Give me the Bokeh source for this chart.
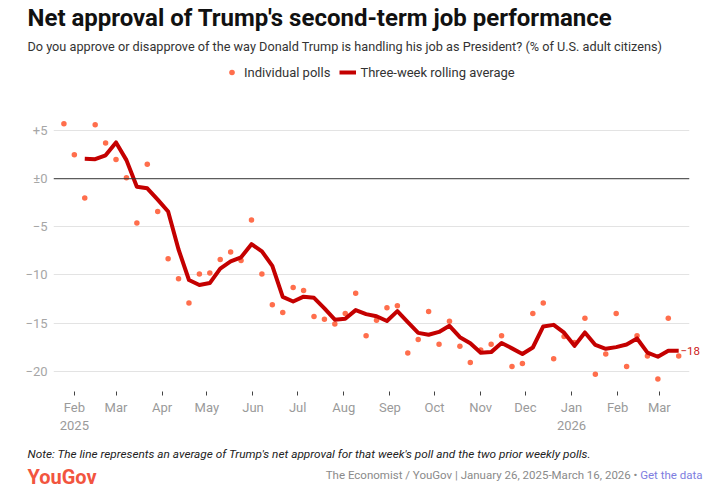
import pandas as pd
from bokeh.plotting import figure
from bokeh.layouts import column
from bokeh.models import (Label, Span, FixedTicker, Legend, LegendItem, Range1d,
                          LinearAxis)
from bokeh.embed import file_html
from bokeh.resources import INLINE

# ---------------- data ----------------
poll_dates = [
    "2025-01-25", "2025-02-01", "2025-02-08", "2025-02-15", "2025-02-22",
    "2025-03-01", "2025-03-08", "2025-03-15", "2025-03-22", "2025-03-29",
    "2025-04-05", "2025-04-12", "2025-04-19", "2025-04-26", "2025-05-03",
    "2025-05-10", "2025-05-17", "2025-05-24", "2025-05-31", "2025-06-07",
    "2025-06-14", "2025-06-21", "2025-06-28", "2025-07-05", "2025-07-12",
    "2025-07-19", "2025-07-26", "2025-08-02", "2025-08-09", "2025-08-16",
    "2025-08-23", "2025-08-30", "2025-09-06", "2025-09-13", "2025-09-20",
    "2025-09-27", "2025-10-04", "2025-10-11", "2025-10-18", "2025-10-25",
    "2025-11-01", "2025-11-08", "2025-11-15", "2025-11-22", "2025-11-29",
    "2025-12-06", "2025-12-13", "2025-12-20", "2025-12-27", "2026-01-03",
    "2026-01-10", "2026-01-17", "2026-01-24", "2026-01-31", "2026-02-07",
    "2026-02-14", "2026-02-21", "2026-02-28", "2026-03-07", "2026-03-14",
]
net_approval = [
    5.7, 2.5, -2.0, 5.6, 3.7, 2.0, 0.1, -4.6, 1.5, -3.4,
    -8.3, -10.4, -12.9, -9.9, -9.8, -8.4, -7.6, -8.5, -4.3, -9.9,
    -13.1, -13.9, -11.3, -11.6, -14.3, -14.6, -15.1, -14.0, -11.9, -16.3,
    -14.7, -13.4, -13.2, -18.1, -16.7, -13.8, -17.2, -14.8, -17.4, -19.1,
    -17.8, -17.2, -16.3, -19.5, -19.2, -14.0, -12.9, -18.7, -16.4, -17.0,
    -14.5, -20.3, -18.2, -14.0, -19.5, -16.3, -18.4, -20.8, -14.5, -18.4,
]
# three-week rolling average, from the third poll onwards
rolling_avg = [
    2.07, 2.03, 2.43, 3.77, 1.93, -0.83, -1.0, -2.17, -3.4,
    -7.35, -10.52, -11.04, -10.84, -9.33, -8.59, -8.16, -6.8, -7.54, -9.06,
    -12.27, -12.75, -12.25, -12.37, -13.47, -14.64, -14.54, -13.65, -14.06, -14.29,
    -14.78, -13.75, -14.9, -16.01, -16.21, -15.91, -15.28, -16.46, -17.08, -18.07,
    -18.01, -17.07, -17.62, -18.2, -17.53, -15.34, -15.18, -15.99, -17.36, -15.97,
    -17.27, -17.67, -17.49, -17.22, -16.59, -18.06, -18.49, -17.87, -17.88,
]
month_ticks = [
    "2025-02-01", "2025-03-01", "2025-04-01", "2025-05-01", "2025-06-01",
    "2025-07-01", "2025-08-01", "2025-09-01", "2025-10-01", "2025-11-01",
    "2025-12-01", "2026-01-01", "2026-02-01", "2026-03-01",
]
month_labels = ["Feb\n2025", "Mar", "Apr", "May", "Jun", "Jul", "Aug", "Sep",
                "Oct", "Nov", "Dec", "Jan\n2026", "Feb", "Mar"]
y_ticks = [-20, -15, -10, -5, 0, 5]
y_labels = ["\u221220", "\u221215", "\u221210", "\u22125", "\u00b10", "+5"]

TITLE = "Net approval of Trump's second-term job performance"
SUBTITLE = ("Do you approve or disapprove of the way Donald Trump is handling his job as "
            "President? (% of U.S. adult citizens)")
NOTE = ("Note: The line represents an average of Trump's net approval for that week's poll "
        "and the two prior weekly polls.")
SOURCE = "The Economist / YouGov | January 26, 2025-March 16, 2026 \u2022"
LINK = "Get the data"

# ---------------- layout ----------------
W = 703
HEAD_H, MAIN_H, FOOT_H = 62, 378, 52
FRAME_L, FRAME_R, FRAME_B = 53, 693, 391     # picture coordinates
FONT = "Roboto"


def blank(h):
    f = figure(width=W, height=h, output_backend="svg", toolbar_location=None,
               x_range=Range1d(0, W), y_range=Range1d(0, h),
               x_axis_location=None, y_axis_location=None,
               min_border=0, min_border_left=0, min_border_right=0,
               min_border_top=0, min_border_bottom=0)
    f.outline_line_color = None
    f.grid.visible = False
    f.background_fill_color = "white"
    f.border_fill_color = "white"
    try:
        f.frame_align = False
    except AttributeError:
        pass
    return f


def add_text(f, top, h, text, x, y, size, color, style="normal", align="left"):
    f.add_layout(Label(x=x, y=top + h - y, x_units="screen", y_units="screen",
                       text=text, text_font=FONT, text_font_size=size, text_color=color,
                       text_font_style=style, text_align=align, text_baseline="middle"))


# header
head = blank(HEAD_H)
add_text(head, 0, HEAD_H, TITLE, 27, 17, "24px", "#111111", "bold")
add_text(head, 0, HEAD_H, SUBTITLE, 27, 46, "12.7px", "#333333")

# main chart
dates = pd.to_datetime(poll_dates)
p = figure(width=W, height=MAIN_H, x_axis_type="datetime", output_backend="svg",
           toolbar_location=None,
           x_range=Range1d(pd.Timestamp("2025-01-18"), pd.Timestamp("2026-03-21 06:00")),
           y_range=Range1d(-22.10, 12.07),
           min_border_left=FRAME_L, min_border_right=W - FRAME_R,
           min_border_top=0, min_border_bottom=HEAD_H + MAIN_H - FRAME_B)
p.outline_line_color = None
p.background_fill_color = "white"
p.border_fill_color = "white"

p.yaxis.ticker = FixedTicker(ticks=y_ticks)
p.yaxis.major_label_overrides = dict(zip(y_ticks, y_labels))
p.yaxis.axis_line_color = None
p.yaxis.major_tick_line_color = None
p.yaxis.minor_tick_line_color = None
p.yaxis.major_tick_out = 0
p.yaxis.major_tick_in = 0
p.yaxis.major_label_text_color = "#a6a6a6"
p.yaxis.major_label_text_font = FONT
p.yaxis.major_label_text_font_size = "13px"
p.yaxis.major_label_standoff = 6

p.ygrid.ticker = FixedTicker(ticks=[t for t in y_ticks if t != 0])
p.ygrid.grid_line_color = "#e3e3e3"
p.xgrid.grid_line_color = None
p.add_layout(Span(location=0, dimension="width", line_color="#333333", line_width=1))

tick_ms = [int(pd.Timestamp(d).value // 10**6) for d in month_ticks]
p.xaxis.ticker = FixedTicker(ticks=tick_ms)
p.xaxis.major_label_overrides = dict(zip(tick_ms, month_labels))
p.xaxis.axis_line_color = None
p.xaxis.major_tick_out = 4
p.xaxis.major_tick_in = 0
p.xaxis.major_tick_line_color = "#444444"
p.xaxis.minor_tick_line_color = None
p.xaxis.major_label_text_color = "#9a9a9a"
p.xaxis.major_label_text_font = FONT
p.xaxis.major_label_text_font_size = "13px"
p.xaxis.major_label_standoff = 4

r_pts = p.scatter(dates, net_approval, size=5.5, fill_color="#ff6e4c", line_color=None)
r_line = p.line(dates[2:], rolling_avg, line_color="#c40000", line_width=4,
                line_join="round")

# end-of-line value, as a right-hand axis label
last_val = rolling_avg[-1]
end_axis = LinearAxis(ticker=FixedTicker(ticks=[last_val]),
                      major_label_overrides={last_val: "\u2212%d" % abs(round(last_val))})
end_axis.axis_line_color = None
end_axis.major_tick_line_color = None
end_axis.minor_tick_line_color = None
end_axis.major_tick_in = 0
end_axis.major_tick_out = 0
end_axis.major_label_standoff = -9
end_axis.major_label_text_color = "#cc2020"
end_axis.major_label_text_font = FONT
end_axis.major_label_text_font_size = "11.5px"
p.add_layout(end_axis, "right")

legend = Legend(items=[LegendItem(label="Individual polls", renderers=[r_pts]),
                       LegendItem(label="Three-week rolling average", renderers=[r_line])],
                orientation="horizontal", location=(170, FRAME_B - 82),
                padding=0, margin=0, spacing=9, glyph_width=17, glyph_height=14,
                label_height=20, label_standoff=4,
                label_text_font=FONT, label_text_font_size="13px", label_text_color="#333333",
                border_line_color=None, background_fill_alpha=0)
p.add_layout(legend)

# footer
foot = blank(FOOT_H)
FT = HEAD_H + MAIN_H
add_text(foot, FT, FOOT_H, NOTE, 27, 453, "11.8px", "#222222", "italic")
add_text(foot, FT, FOOT_H, "YouGov", 27, 476, "20px", "#f2553f", "bold")
add_text(foot, FT, FOOT_H, SOURCE, 637, 474, "11.5px", "#8a8a8a", align="right")
add_text(foot, FT, FOOT_H, LINK, 702, 474, "11.5px", "#7d7de0", align="right")

layout = column(head, p, foot, spacing=0)
open("out.html", "w").write(file_html(layout, INLINE))
